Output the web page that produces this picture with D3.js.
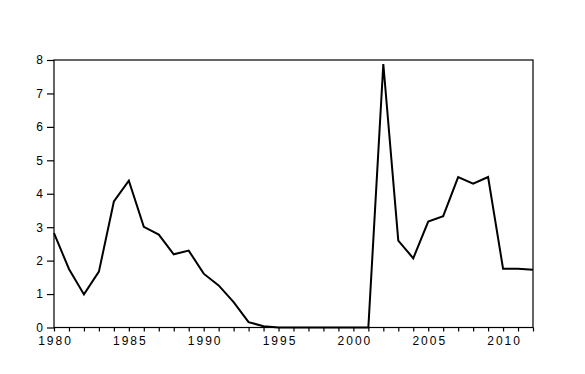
<!DOCTYPE html>
<html>
<head>
<meta charset="utf-8">
<script src="https://cdn.jsdelivr.net/npm/d3@7"></script>
<style>
  body { margin: 0; background: #fff; }
  svg text { font-family: "Liberation Sans", Arial, sans-serif; font-size: 12px; fill: #000; letter-spacing: 2px; }
</style>
</head>
<body>
<svg id="chart" width="585" height="374"></svg>
<script>
// yearly values
var years = d3.range(1980, 2013);
var values = [2.82, 1.75, 0.99, 1.67, 3.77, 4.39, 3.01, 2.78, 2.19, 2.30,
	      1.61, 1.26, 0.76, 0.16, 0.04, 0, 0, 0, 0, 0,
	      0, 0, 7.88, 2.60, 2.07, 3.17, 3.33, 4.50, 4.30, 4.50,
	      1.76, 1.76, 1.73];
var yTicks = [0, 1, 2, 3, 4, 5, 6, 7, 8];
var xLabels = [1980, 1985, 1990, 1995, 2000, 2005, 2010];

var plotLeft = 54, plotRight = 533, plotTop = 60, plotBottom = 327.5;

var svg = d3.select("#chart");

var x = d3.scaleLinear()
    .domain([1980, 2012])
    .range([plotLeft, plotRight]);

var y = d3.scaleLinear()
    .domain([0, 8])
    .range([plotBottom, plotTop]);

// frame
svg.append("rect")
    .attr("x", plotLeft)
    .attr("y", plotTop)
    .attr("width", plotRight - plotLeft)
    .attr("height", plotBottom - plotTop)
    .attr("fill", "none")
    .attr("stroke", "#000")
    .attr("stroke-width", 1.2);

// y axis
var yAxis = svg.append("g")
    .attr("transform", "translate(" + plotLeft + ",0)")
    .call(d3.axisLeft(y).tickValues(yTicks).tickSize(7).tickPadding(4).tickFormat(d3.format("d")));
yAxis.select(".domain").remove();
yAxis.selectAll("text").attr("dx", "2px");

// x axis: a tick each year, a label every five
var xAxis = svg.append("g")
    .attr("transform", "translate(0," + plotBottom + ")")
    .call(d3.axisBottom(x).tickValues(years).tickSize(4).tickPadding(5)
	  .tickFormat(function(d){ return xLabels.indexOf(d) >= 0 ? d : ""; }));
xAxis.select(".domain").remove();
xAxis.selectAll("text").attr("dx", "1px");

svg.selectAll(".tick line").attr("stroke", "#000").attr("stroke-width", 1.2);
svg.selectAll(".tick text").style("font-size", "12px").style("font-family", "Liberation Sans, Arial, sans-serif");

var line = d3.line()
    .x(function(d, i){ return x(years[i]); })
    .y(function(d){ return y(d); });

svg.append("path")
    .datum(values)
    .attr("d", line)
    .attr("fill", "none")
    .attr("stroke", "#000")
    .attr("stroke-width", 2)
    .attr("stroke-linejoin", "miter");
</script>
</body>
</html>
